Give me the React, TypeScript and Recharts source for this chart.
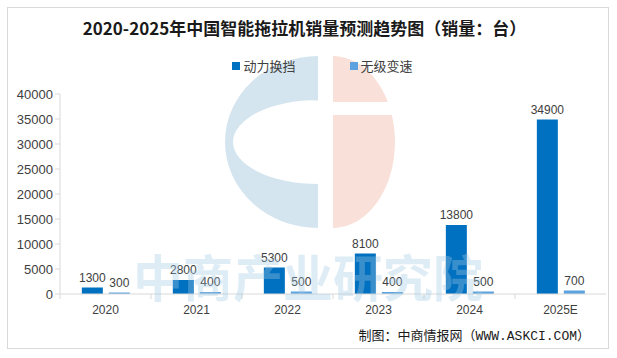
import { Bar, BarChart, LabelList, XAxis, YAxis } from "recharts";

const years = ["2020", "2021", "2022", "2023", "2024", "2025E"];
const powerShift = [1300, 2800, 5300, 8100, 13800, 34900];
const cvt = [300, 400, 500, 400, 500, 700];
const yTicks = [0, 5000, 10000, 15000, 20000, 25000, 30000, 35000, 40000];

const SERIES = [
  { key: "powerShift", name: "动力换挡", color: "#0070C0" },
  { key: "cvt", name: "无级变速", color: "#5BA3E0" },
];

const W = 617;
const H = 358;
const MARGIN = { top: 94, right: 11, left: 0, bottom: 34 };
const Y_W = 60;
const HALF_BAND = (W - MARGIN.left - MARGIN.right - Y_W) / years.length / 2;

const data = years.map((y, i) => ({ year: y, powerShift: powerShift[i], cvt: cvt[i] }));

const AXIS = "#d9d9d9";
const TEXT = "#404040";
const NUM_FONT = "'Liberation Sans', Arial, sans-serif";
const CJK_FONT = "'Noto Sans CJK SC', 'Noto Sans', sans-serif";

function XTick(props: any) {
  const { x, y, payload } = props;
  return (
    <g>
      <line x1={x - HALF_BAND} x2={x - HALF_BAND} y1={y - 8} y2={y - 3} stroke={AXIS} />
      <text x={x} y={y + 12} textAnchor="middle" fontSize={12} fill={TEXT} fontFamily={NUM_FONT}>
        {payload.value}
      </text>
    </g>
  );
}

function LegendBox() {
  return (
    <div
      style={{
        position: "absolute",
        left: 14,
        top: 56,
        width: W,
        display: "flex",
        justifyContent: "center",
        gap: 54,
        fontFamily: CJK_FONT,
        fontSize: 13,
        color: TEXT,
      }}
    >
      {SERIES.map((s) => (
        <span key={s.key} style={{ display: "flex", alignItems: "center", gap: 3 }}>
          <span style={{ width: 8, height: 8, background: s.color, display: "inline-block" }} />
          {s.name}
        </span>
      ))}
    </div>
  );
}

function Logo() {
  // faint watermark logo behind the plot
  return (
    <svg width={W} height={H} style={{ position: "absolute", left: 0, top: 0 }}>
      <path
        d="M318 56 A93 86 0 0 0 318 228 Z M318 100 A85 42 0 0 0 318 184 Z"
        fill="#d5e5ef"
        fillRule="evenodd"
      />
      <path d="M333 56 A62 86 0 0 1 333 228 Z" fill="#f9e1d9" />
      <rect x={333} y={102} width={70} height={13} fill="#fff" />
    </svg>
  );
}

export default function App() {
  return (
    <div style={{ position: "absolute", left: 0, top: 0, width: W, height: H, background: "#fff" }}>
      <div
        style={{
          position: "absolute",
          left: 7,
          top: 7,
          width: 602,
          height: 342,
          border: `1px solid ${AXIS}`,
          boxSizing: "border-box",
        }}
      />
      <Logo />
      <div
        style={{
          position: "absolute",
          left: 0,
          width: W,
          top: 15,
          textAlign: "center",
          fontFamily: CJK_FONT,
          fontSize: 17,
          fontWeight: 700,
          color: "#1a1a1a",
          paddingRight: 8,
          boxSizing: "border-box",
        }}
      >
        2020-2025年中国智能拖拉机销量预测趋势图（销量：台）
      </div>
      <LegendBox />
      <div style={{ position: "absolute", left: 0, top: 0 }}>
        <BarChart width={W} height={H} data={data} margin={MARGIN} barCategoryGap="24%" barGap={6}>
          <XAxis
            dataKey="year"
            axisLine={{ stroke: AXIS }}
            tickLine={false}
            tick={<XTick />}
            height={30}
            interval={0}
          />
          <YAxis
            domain={[0, 40000]}
            ticks={yTicks}
            width={Y_W}
            axisLine={{ stroke: AXIS }}
            tickLine={{ stroke: AXIS }}
            tickSize={5}
            tick={{ fontSize: 13, fill: TEXT, fontFamily: NUM_FONT }}
            interval={0}
          />
          {SERIES.map((s) => (
            <Bar key={s.key} dataKey={s.key} name={s.name} fill={s.color} isAnimationActive={false}>
              <LabelList
                dataKey={s.key}
                position="top"
                offset={6}
                style={{ fontSize: 12, fill: TEXT, fontFamily: NUM_FONT }}
              />
            </Bar>
          ))}
        </BarChart>
      </div>
      <div
        style={{
          position: "absolute",
          left: 133,
          top: 250,
          fontFamily: CJK_FONT,
          fontSize: 50,
          lineHeight: 1,
          fontWeight: 700,
          color: "rgba(160, 200, 225, 0.35)",
          pointerEvents: "none",
          whiteSpace: "nowrap",
        }}
      >
        中商产业研究院
      </div>
      <div
        style={{
          position: "absolute",
          right: 27,
          top: 325,
          fontFamily: "'Liberation Mono', 'Noto Sans CJK SC', monospace",
          fontSize: 13,
          color: "#1a1a1a",
          whiteSpace: "nowrap",
        }}
      >
        制图：中商情报网（WWW.ASKCI.COM）
      </div>
    </div>
  );
}
